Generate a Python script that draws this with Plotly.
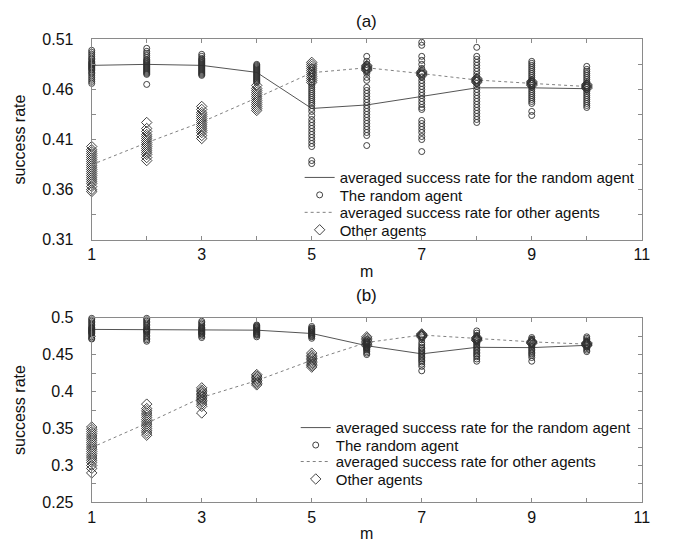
import plotly.graph_objects as go

m_values = [1, 2, 3, 4, 5, 6, 7, 8, 9, 10]

# Panel (a): averaged success rates
a_random_avg = [0.484, 0.485, 0.484, 0.477, 0.441, 0.4445, 0.453, 0.4616, 0.4616, 0.4607]
a_others_avg = [0.3848, 0.4068, 0.4274, 0.4516, 0.4767, 0.4816, 0.4758, 0.4694, 0.466, 0.4629]

# Panel (a): individual runs, one list per m
a_random_runs = [
    [0.499, 0.497, 0.495, 0.493, 0.491, 0.490, 0.488, 0.487, 0.486, 0.485, 0.484, 0.483, 0.482, 0.481, 0.480, 0.479, 0.477, 0.476, 0.474, 0.472, 0.470, 0.468, 0.466],
    [0.501, 0.498, 0.496, 0.494, 0.492, 0.490, 0.489, 0.488, 0.487, 0.486, 0.485, 0.484, 0.483, 0.482, 0.481, 0.480, 0.479, 0.478, 0.477, 0.476, 0.475, 0.465],
    [0.495, 0.493, 0.491, 0.490, 0.489, 0.488, 0.487, 0.486, 0.485, 0.484, 0.483, 0.482, 0.481, 0.480, 0.479, 0.478, 0.477, 0.476, 0.475, 0.474],
    [0.485, 0.484, 0.483, 0.482, 0.481, 0.480, 0.479, 0.478, 0.477, 0.476, 0.475, 0.474, 0.473, 0.472, 0.471, 0.470, 0.469, 0.468, 0.467],
    [0.482, 0.479, 0.476, 0.473, 0.470, 0.467, 0.464, 0.462, 0.460, 0.458, 0.456, 0.454, 0.452, 0.450, 0.448, 0.446, 0.444, 0.441, 0.438, 0.434, 0.430, 0.427, 0.424, 0.421, 0.418, 0.415, 0.412, 0.409, 0.406, 0.403, 0.389, 0.386],
    [0.493, 0.488, 0.485, 0.482, 0.479, 0.476, 0.472, 0.469, 0.462, 0.459, 0.456, 0.453, 0.450, 0.447, 0.444, 0.441, 0.438, 0.435, 0.432, 0.429, 0.426, 0.423, 0.420, 0.417, 0.414, 0.404],
    [0.507, 0.504, 0.493, 0.489, 0.485, 0.481, 0.476, 0.472, 0.469, 0.466, 0.463, 0.460, 0.457, 0.454, 0.451, 0.448, 0.445, 0.442, 0.440, 0.429, 0.426, 0.423, 0.420, 0.417, 0.413, 0.410, 0.398],
    [0.502, 0.493, 0.490, 0.487, 0.484, 0.481, 0.478, 0.475, 0.472, 0.469, 0.466, 0.463, 0.460, 0.457, 0.454, 0.451, 0.448, 0.445, 0.442, 0.439, 0.436, 0.433, 0.430, 0.427],
    [0.488, 0.486, 0.484, 0.482, 0.480, 0.478, 0.476, 0.474, 0.472, 0.470, 0.468, 0.466, 0.464, 0.462, 0.460, 0.458, 0.456, 0.454, 0.452, 0.450, 0.448, 0.446, 0.438, 0.434],
    [0.483, 0.480, 0.478, 0.476, 0.474, 0.472, 0.470, 0.468, 0.466, 0.464, 0.462, 0.460, 0.458, 0.456, 0.454, 0.452, 0.450, 0.448, 0.446, 0.444, 0.442],
]
a_others_runs = [
    [0.403, 0.400, 0.398, 0.396, 0.394, 0.392, 0.390, 0.388, 0.386, 0.384, 0.382, 0.380, 0.378, 0.376, 0.374, 0.372, 0.370, 0.368, 0.366, 0.363, 0.360, 0.358],
    [0.427, 0.421, 0.418, 0.415, 0.413, 0.411, 0.409, 0.407, 0.405, 0.403, 0.401, 0.399, 0.397, 0.395, 0.392, 0.389],
    [0.443, 0.440, 0.437, 0.435, 0.433, 0.431, 0.429, 0.427, 0.425, 0.423, 0.421, 0.419, 0.417, 0.414, 0.411],
    [0.464, 0.461, 0.459, 0.457, 0.455, 0.453, 0.451, 0.449, 0.447, 0.445, 0.443, 0.441, 0.439],
    [0.487, 0.485, 0.483, 0.481, 0.479, 0.477, 0.475, 0.473, 0.471, 0.469, 0.467],
    [0.484, 0.483, 0.482, 0.481, 0.480, 0.479],
    [0.478, 0.477, 0.476, 0.475, 0.474],
    [0.471, 0.470, 0.469, 0.468, 0.467],
    [0.468, 0.467, 0.466, 0.465, 0.464],
    [0.465, 0.464, 0.463, 0.462, 0.461],
]

# Panel (b): averaged success rates
b_random_avg = [0.484, 0.4835, 0.483, 0.483, 0.4785, 0.462, 0.451, 0.4598, 0.4594, 0.4625]
b_others_avg = [0.3243, 0.3571, 0.392, 0.4148, 0.4423, 0.4663, 0.4764, 0.472, 0.4672, 0.4641]

b_random_runs = [
    [0.499, 0.497, 0.495, 0.493, 0.491, 0.489, 0.487, 0.486, 0.485, 0.484, 0.483, 0.482, 0.481, 0.480, 0.479, 0.478, 0.476, 0.474, 0.472, 0.471],
    [0.499, 0.497, 0.495, 0.493, 0.491, 0.489, 0.487, 0.485, 0.484, 0.483, 0.482, 0.481, 0.480, 0.478, 0.476, 0.474, 0.472, 0.470, 0.468],
    [0.495, 0.493, 0.491, 0.489, 0.487, 0.486, 0.485, 0.484, 0.483, 0.482, 0.481, 0.480, 0.479, 0.478, 0.477, 0.475, 0.473],
    [0.490, 0.489, 0.488, 0.487, 0.486, 0.485, 0.484, 0.483, 0.482, 0.481, 0.480, 0.479, 0.478, 0.477, 0.476, 0.474],
    [0.488, 0.486, 0.485, 0.484, 0.483, 0.482, 0.481, 0.480, 0.479, 0.478, 0.477, 0.476, 0.475, 0.474, 0.472],
    [0.470, 0.468, 0.467, 0.466, 0.465, 0.464, 0.463, 0.462, 0.461, 0.460, 0.459, 0.458, 0.457, 0.456, 0.454, 0.452, 0.450],
    [0.477, 0.474, 0.470, 0.466, 0.463, 0.460, 0.458, 0.456, 0.454, 0.452, 0.450, 0.448, 0.446, 0.444, 0.442, 0.440, 0.437, 0.434, 0.428],
    [0.482, 0.479, 0.476, 0.473, 0.471, 0.469, 0.467, 0.465, 0.463, 0.461, 0.459, 0.457, 0.455, 0.453, 0.451, 0.449, 0.447, 0.444, 0.441],
    [0.473, 0.471, 0.469, 0.467, 0.465, 0.463, 0.461, 0.459, 0.457, 0.455, 0.453, 0.451, 0.449, 0.446, 0.441],
    [0.474, 0.472, 0.470, 0.468, 0.466, 0.464, 0.462, 0.460, 0.458, 0.456, 0.454],
]
b_others_runs = [
    [0.352, 0.349, 0.346, 0.343, 0.340, 0.337, 0.334, 0.331, 0.328, 0.325, 0.322, 0.319, 0.316, 0.313, 0.310, 0.307, 0.304, 0.300, 0.296, 0.290],
    [0.383, 0.377, 0.374, 0.371, 0.368, 0.365, 0.362, 0.359, 0.356, 0.353, 0.350, 0.347, 0.344, 0.341],
    [0.405, 0.402, 0.400, 0.398, 0.396, 0.394, 0.392, 0.390, 0.388, 0.386, 0.383, 0.380, 0.371],
    [0.423, 0.421, 0.419, 0.417, 0.415, 0.413, 0.411, 0.409],
    [0.452, 0.449, 0.447, 0.445, 0.443, 0.441, 0.439, 0.437, 0.435, 0.433],
    [0.474, 0.472, 0.470, 0.468, 0.466, 0.464, 0.462],
    [0.478, 0.477, 0.476, 0.475, 0.474],
    [0.473, 0.472, 0.471, 0.470, 0.469],
    [0.468, 0.467, 0.466, 0.465],
    [0.466, 0.465, 0.464, 0.463, 0.462],
]

names = [
    "averaged success rate for the random agent",
    "The random agent",
    "averaged success rate for other agents",
    "Other agents",
]

FONT = "Liberation Sans, Arial, Helvetica, sans-serif"
AXIS_GREY = "#8a8a8a"
MARK = "#2e2e2e"
TXT = "#111111"


def flatten(runs):
    xs, ys = [], []
    for m, vals in zip(m_values, runs):
        xs.extend([m] * len(vals))
        ys.extend(vals)
    return xs, ys


fig = go.Figure()


def add_panel(xa, ya, legends, r_avg, o_avg, r_runs, o_runs):
    rx, ry = flatten(r_runs)
    ox, oy = flatten(o_runs)
    fig.add_trace(go.Scatter(x=m_values, y=r_avg, mode="lines", name=names[0],
                             line=dict(color="#555555", width=1),
                             xaxis=xa, yaxis=ya, legend=legends[0], cliponaxis=False))
    fig.add_trace(go.Scatter(x=rx, y=ry, mode="markers", name=names[1],
                             marker=dict(symbol="circle-open", size=6, color=MARK,
                                         line=dict(width=0.9, color=MARK)),
                             xaxis=xa, yaxis=ya, legend=legends[1], cliponaxis=False))
    fig.add_trace(go.Scatter(x=m_values, y=o_avg, mode="lines", name=names[2],
                             line=dict(color="#808080", width=1, dash="dot"),
                             xaxis=xa, yaxis=ya, legend=legends[2], cliponaxis=False))
    fig.add_trace(go.Scatter(x=ox, y=oy, mode="markers", name=names[3],
                             marker=dict(symbol="diamond-open", size=8, color=MARK,
                                         line=dict(width=0.9, color=MARK)),
                             xaxis=xa, yaxis=ya, legend=legends[3], cliponaxis=False))


add_panel("x", "y", ["legend", "legend2", "legend3", "legend4"],
          a_random_avg, a_others_avg, a_random_runs, a_others_runs)
add_panel("x2", "y2", ["legend5", "legend6", "legend7", "legend8"],
          b_random_avg, b_others_avg, b_random_runs, b_others_runs)

W, H = 675, 559
xdom = [89.3 / W, 649.3 / W]
ya_dom = [1 - 239 / H, 1 - 32.3 / H]
yb_dom = [1 - 510 / H, 1 - 319.3 / H]

xcommon = dict(range=[1, 11], tick0=1, dtick=2, ticks="inside", ticklen=4,
               tickcolor=AXIS_GREY, showline=True, linecolor=AXIS_GREY, linewidth=1,
               mirror="ticks", showgrid=False, zeroline=False,
               minor=dict(dtick=1, ticks="inside", ticklen=4, tickcolor=AXIS_GREY, showgrid=False),
               tickfont=dict(size=16, color=TXT), ticklabelstandoff=0,
               title=dict(text="m", font=dict(size=16, color=TXT), standoff=3))
ycommon = dict(ticks="inside", ticklen=4, tickcolor=AXIS_GREY, showline=True,
               linecolor=AXIS_GREY, linewidth=1, mirror="ticks", showgrid=False,
               zeroline=False, tickfont=dict(size=16, color=TXT), ticklabelstandoff=14,
               title=dict(text="success rate", font=dict(size=16, color=TXT), standoff=12))


def leg(xpx, ypx):
    return dict(x=xpx / W, y=1 - ypx / H, xanchor="left", yanchor="middle",
                bgcolor="rgba(0,0,0,0)", font=dict(size=15, color=TXT),
                itemwidth=30, borderwidth=0)


legend_rows_a = [175, 193, 211, 229]
legend_rows_b = [433, 451, 468, 486]
layout_legends = {}
for i, ypx in enumerate(legend_rows_a):
    key = "legend" if i == 0 else "legend%d" % (i + 1)
    layout_legends[key] = leg(301, ypx)
for i, ypx in enumerate(legend_rows_b):
    layout_legends["legend%d" % (i + 5)] = leg(297, ypx)

fig.update_layout(
    width=W, height=H,
    margin=dict(l=0, r=0, t=0, b=0),
    paper_bgcolor="white", plot_bgcolor="white",
    font=dict(family=FONT, color=TXT),
    xaxis=dict(domain=xdom, anchor="y", **xcommon),
    yaxis=dict(domain=ya_dom, anchor="x", range=[0.31, 0.51], tick0=0.31, dtick=0.05,
               tickformat=".2f",
               minor=dict(dtick=0.025, tick0=0.31, ticks="inside", ticklen=4,
                          tickcolor=AXIS_GREY, showgrid=False),
               **ycommon),
    xaxis2=dict(domain=xdom, anchor="y2", **xcommon),
    yaxis2=dict(domain=yb_dom, anchor="x2", range=[0.25, 0.5], tick0=0.25, dtick=0.05,
                minor=dict(dtick=0.025, tick0=0.25, ticks="inside", ticklen=4,
                           tickcolor=AXIS_GREY, showgrid=False),
                **ycommon),
    annotations=[
        dict(text="(a)", x=369.3 / W, y=1 - 14 / H, xref="paper", yref="paper",
             showarrow=False, font=dict(size=17, color=TXT), xanchor="center", yanchor="middle"),
        dict(text="(b)", x=369.3 / W, y=1 - 297 / H, xref="paper", yref="paper",
             showarrow=False, font=dict(size=17, color=TXT), xanchor="center", yanchor="middle"),
    ],
    showlegend=True,
    **layout_legends,
)

fig.write_html("out.html")
